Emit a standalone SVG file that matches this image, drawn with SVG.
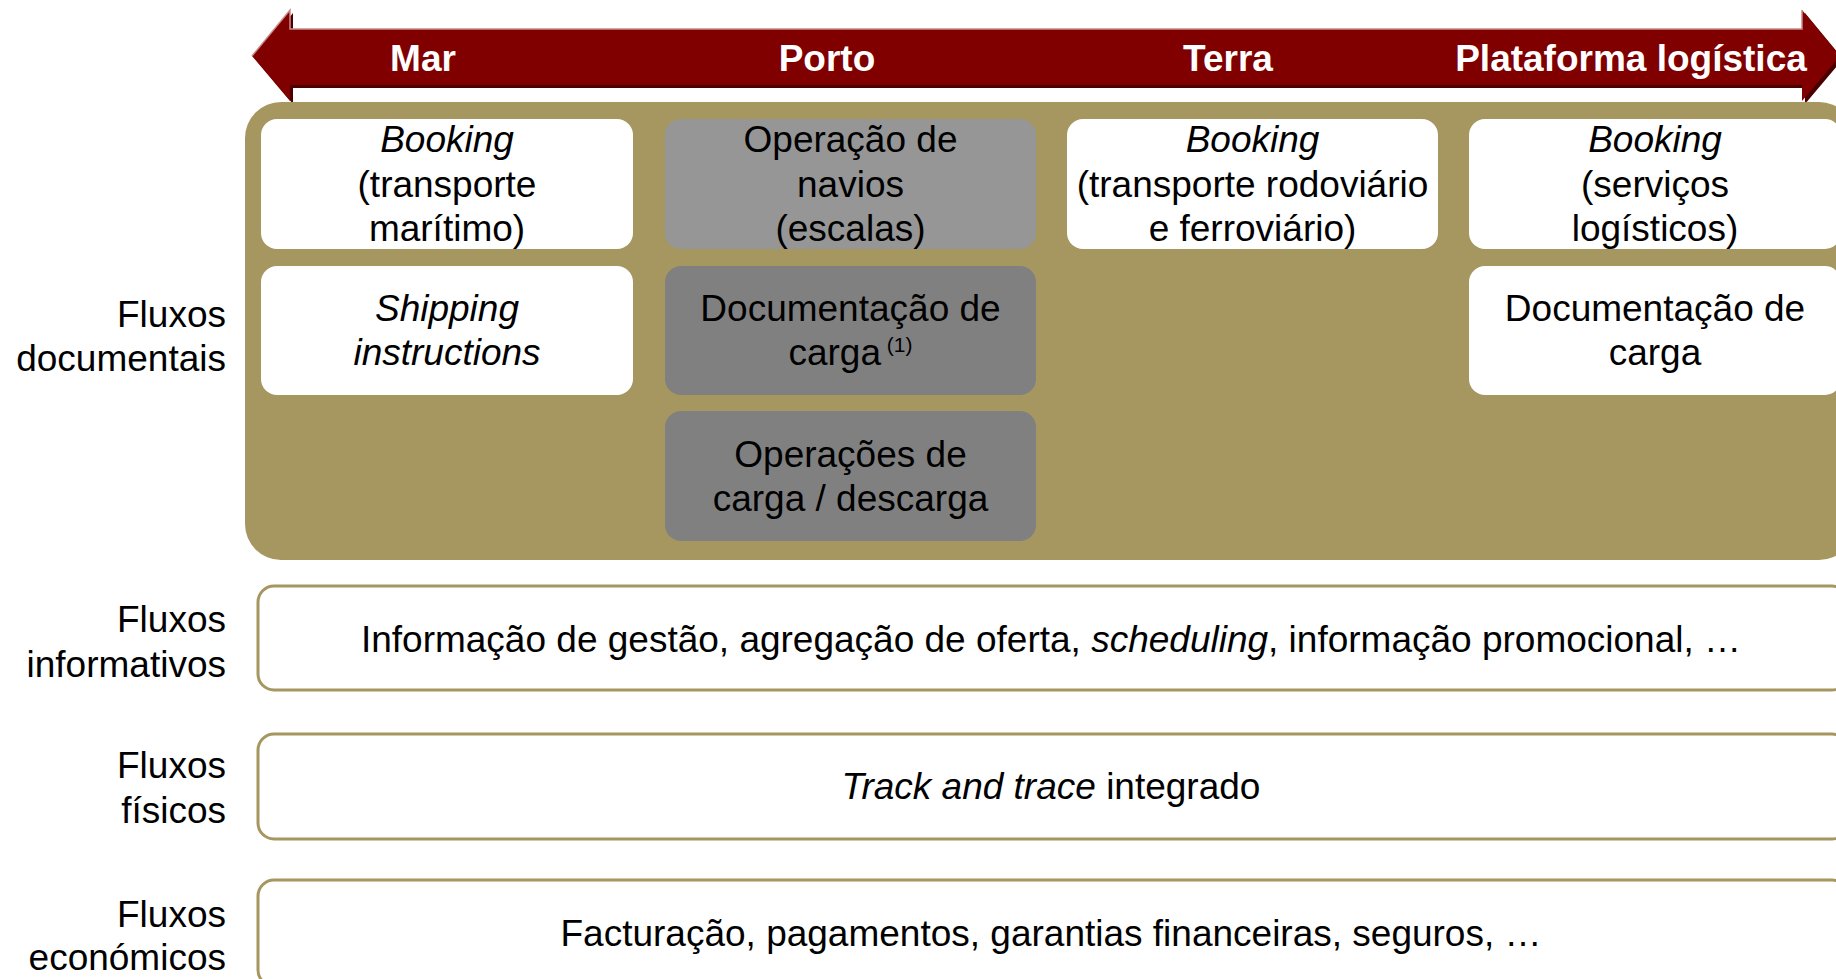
<svg xmlns="http://www.w3.org/2000/svg" width="1836" height="979" viewBox="0 0 1836 979">
<style>
text{font-family:"Liberation Sans",Arial,sans-serif;fill:#000;font-size:37px}
.hdr{font-weight:bold;fill:#fff;font-size:37px;text-anchor:middle}
.c{text-anchor:middle}
.r{text-anchor:end}
.i{font-style:italic}
.w{fill:#fff}
.g1{fill:#969696}
.g2{fill:#808080}
.bar{fill:#fff;stroke:#A69660;stroke-width:3}
</style>
<rect width="1836" height="979" fill="#fff"/>
<g id="arrow">
<path d="M255,59 L293,13 L293,32 L1805,32 L1805,13 L1843,59 L1805,104 L1805,88 L293,88 L293,104 Z" fill="#4a0000"/>
<path d="M252,56 L290,10 L290,29 L1802,29 L1802,10 L1840,56 L1802,101 L1802,85 L290,85 L290,101 Z" fill="#800000"/>
<path d="M252,56 L290,10 L290,29 L1802,29 L1802,10" fill="none" stroke="#c98a8a" stroke-width="1.5"/>
<text class="hdr" x="423" y="71">Mar</text>
<text class="hdr" x="827" y="71">Porto</text>
<text class="hdr" x="1228" y="71">Terra</text>
<text class="hdr" x="1631" y="71">Plataforma logística</text>
</g>
<g id="panel">
<rect x="245" y="102" width="1610" height="458" rx="36" fill="#A69660"/>
</g>
<g id="mar-booking">
<rect class="w" x="261" y="119" width="372" height="130" rx="16"/>
<text class="c i" x="447" y="152">Booking</text>
<text class="c" x="447" y="197">(transporte</text>
<text class="c" x="447" y="241">marítimo)</text>
</g>
<g id="mar-shipping">
<rect class="w" x="261" y="266" width="372" height="129" rx="16"/>
<text class="c i" x="447" y="321">Shipping</text>
<text class="c i" x="447" y="365">instructions</text>
</g>
<g id="porto-navios">
<rect class="g1" x="665" y="119" width="371" height="130" rx="16"/>
<text class="c" x="850.5" y="152">Operação de</text>
<text class="c" x="850.5" y="197">navios</text>
<text class="c" x="850.5" y="241">(escalas)</text>
</g>
<g id="porto-doc">
<rect class="g2" x="665" y="266" width="371" height="129" rx="16"/>
<text class="c" x="850.5" y="321">Documentação de</text>
<text class="c" x="850.5" y="365">carga<tspan font-size="21" dy="-13"> (1)</tspan></text>
</g>
<g id="porto-ops">
<rect class="g2" x="665" y="411" width="371" height="130" rx="16"/>
<text class="c" x="850.5" y="467">Operações de</text>
<text class="c" x="850.5" y="511">carga / descarga</text>
</g>
<g id="terra-booking">
<rect class="w" x="1067" y="119" width="371" height="130" rx="16"/>
<text class="c i" x="1252.5" y="152">Booking</text>
<text class="c" x="1252.5" y="197">(transporte rodoviário</text>
<text class="c" x="1252.5" y="241">e ferroviário)</text>
</g>
<g id="plat-booking">
<rect class="w" x="1469" y="119" width="372" height="130" rx="16"/>
<text class="c i" x="1655" y="152">Booking</text>
<text class="c" x="1655" y="197">(serviços</text>
<text class="c" x="1655" y="241">logísticos)</text>
</g>
<g id="plat-doc">
<rect class="w" x="1469" y="266" width="372" height="129" rx="16"/>
<text class="c" x="1655" y="321">Documentação de</text>
<text class="c" x="1655" y="365">carga</text>
</g>
<g id="label-documentais">
<text class="r" x="226" y="327">Fluxos</text>
<text class="r" x="226" y="371">documentais</text>
</g>
<g id="informativos">
<text class="r" x="226" y="632">Fluxos</text>
<text class="r" x="226" y="677">informativos</text>
<rect class="bar" x="258" y="586" width="1590" height="104" rx="16"/>
<text class="c" x="1051" y="652">Informação de gestão, agregação de oferta, <tspan class="i">scheduling</tspan>, informação promocional, …</text>
</g>
<g id="fisicos">
<text class="r" x="226" y="778">Fluxos</text>
<text class="r" x="226" y="823">físicos</text>
<rect class="bar" x="258" y="734" width="1590" height="105" rx="16"/>
<text class="c" x="1051" y="799"><tspan class="i">Track and trace</tspan> integrado</text>
</g>
<g id="economicos">
<text class="r" x="226" y="927">Fluxos</text>
<text class="r" x="226" y="970">económicos</text>
<rect class="bar" x="258" y="880" width="1590" height="106" rx="16"/>
<text class="c" x="1051" y="946">Facturação, pagamentos, garantias financeiras, seguros, …</text>
</g>
<g id="connectors"></g>
</svg>
